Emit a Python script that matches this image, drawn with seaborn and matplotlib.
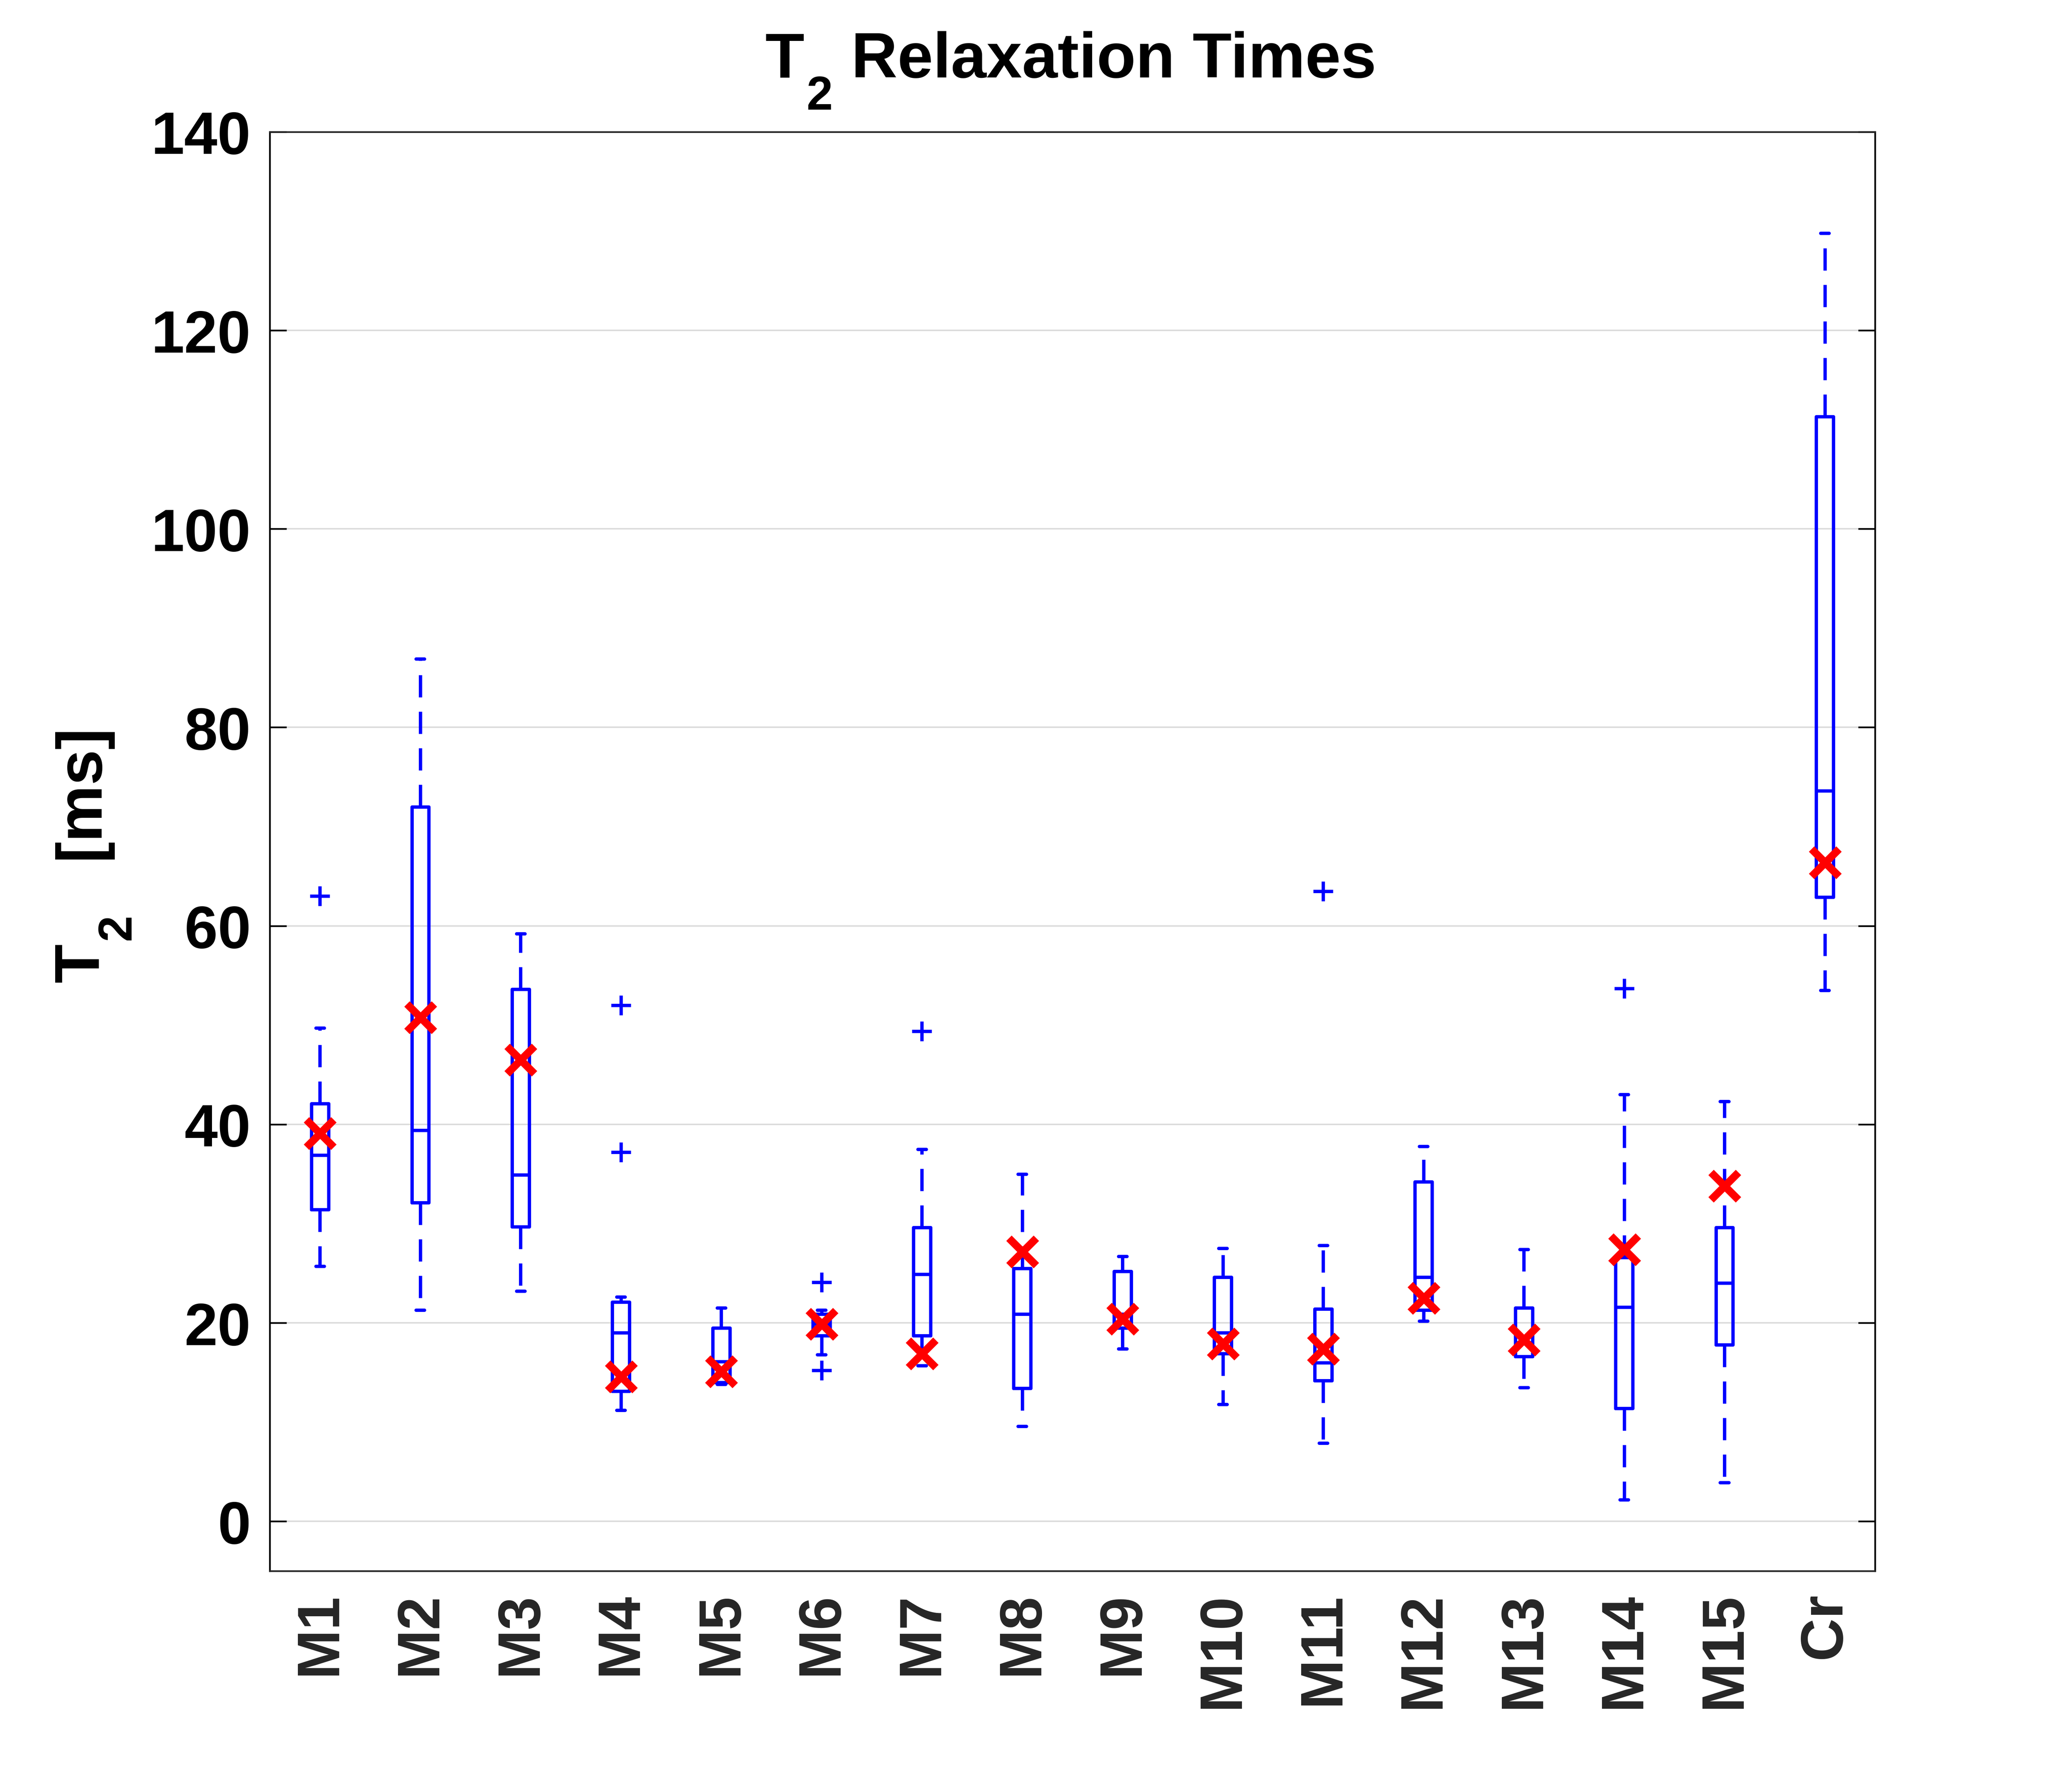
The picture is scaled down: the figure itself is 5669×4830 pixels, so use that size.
import numpy as np
import matplotlib
matplotlib.use("Agg")
import matplotlib.pyplot as plt
import seaborn as sns

# values (ms)
categories = ['M1', 'M2', 'M3', 'M4', 'M5', 'M6', 'M7', 'M8', 'M9', 'M10',
              'M11', 'M12', 'M13', 'M14', 'M15', 'Cr']
whisker_low = [25.7, 21.3, 23.2, 11.2, 13.8, 16.8, 15.7, 9.6, 17.4, 11.8,
               7.9, 20.2, 13.5, 2.2, 3.9, 53.5]
q1 = [31.4, 32.1, 29.7, 13.1, 14.0, 18.7, 18.7, 13.4, 19.5, 16.9,
      14.2, 21.3, 16.6, 11.4, 17.8, 62.9]
medians = [36.9, 39.4, 34.9, 19.0, 16.1, 19.9, 24.9, 20.9, 20.9, 19.0,
           16.0, 24.6, 18.0, 21.6, 24.0, 73.6]
q3 = [42.1, 72.0, 53.6, 22.1, 19.5, 20.9, 29.6, 25.5, 25.2, 24.6,
      21.4, 34.2, 21.5, 26.6, 29.6, 111.3]
whisker_high = [49.7, 86.9, 59.2, 22.6, 21.5, 21.3, 37.5, 35.0, 26.7, 27.5,
                27.8, 37.8, 27.4, 43.0, 42.3, 129.8]
means = [39.1, 50.8, 46.5, 14.6, 15.1, 19.9, 16.9, 27.2, 20.4, 17.9,
         17.4, 22.5, 18.3, 27.4, 33.8, 66.4]
outliers = [[63.0], [], [], [52.0, 37.2], [], [24.1, 15.2], [49.4], [], [], [],
            [63.5], [], [], [53.7], [], []]
yticks = [0, 20, 40, 60, 80, 100, 120, 140]

sns.set_theme(style="white")
plt.rcParams['font.family'] = ['Liberation Sans', 'DejaVu Sans']
plt.rcParams['font.weight'] = 'bold'
plt.rcParams['lines.scale_dashes'] = False

W, H = 5669, 4831
fig = plt.figure(figsize=(W / 600, H / 600), dpi=600)
ax = fig.add_axes([0.1302, 0.1099, 0.9049 - 0.1302, 0.9251 - 0.1099])

stats = []
for i in range(len(categories)):
    stats.append(dict(whislo=whisker_low[i], q1=q1[i], med=medians[i],
                      q3=q3[i], whishi=whisker_high[i],
                      fliers=outliers[i], label=categories[i]))

lw = 1.1
ax.bxp(stats, positions=np.arange(len(categories)), widths=0.17,
       manage_ticks=False,
       boxprops=dict(color='blue', lw=lw),
       whiskerprops=dict(color='blue', lw=lw, linestyle=(0, (7.3, 4.7))),
       capprops=dict(color='blue', lw=lw),
       medianprops=dict(color='blue', lw=lw),
       flierprops=dict(marker='+', markeredgecolor='blue', markersize=6.5,
                       markeredgewidth=1.1, linestyle='none'))

# mean markers
sns.pointplot(x=categories, y=means, ax=ax, color='red', markers='x',
              linestyle='none', errorbar=None, markersize=9,
              markeredgewidth=2.5, zorder=5)

ax.set_xlim(-0.5, len(categories) - 0.5)
ax.set_ylim(-5, 140)
ax.set_yticks(yticks)
ax.set_xlabel('')
ax.set_ylabel('')

ax.set_axisbelow(True)
ax.yaxis.grid(True, color='#dbdbdb', lw=0.5)
ax.xaxis.grid(False)

for side in ['left', 'right']:
    ax.spines[side].set_color('black')
    ax.spines[side].set_linewidth(0.55)
for side in ['top', 'bottom']:
    ax.spines[side].set_color('#262626')
    ax.spines[side].set_linewidth(0.55)

ax.tick_params(axis='y', direction='in', length=5.5, width=0.55,
               left=True, right=True, labelsize=19.6, pad=6.2,
               colors='black')
ax.tick_params(axis='x', length=0, pad=7, labelsize=19.6,
               labelrotation=90, labelcolor='#262626')
for lab in ax.get_xticklabels() + ax.get_yticklabels():
    lab.set_fontweight('bold')

# title with a low subscript, MATLAB style
txt = dict(fontweight='bold', color='black', ha='left', va='baseline')
fig.text(2094 / W, 1 - 212 / H, 'T', fontsize=21, **txt)
fig.text(2206 / W, 1 - 300 / H, '2', fontsize=15.5, **txt)
fig.text(2329 / W, 1 - 212 / H, 'Relaxation Times', fontsize=21, **txt)

# y label
rot = dict(rotation=90, rotation_mode='anchor', **txt)
fig.text(269 / W, 1 - 2688 / H, 'T', fontsize=21, **rot)
fig.text(356 / W, 1 - 2573 / H, '2', fontsize=15.5, **rot)
fig.text(269 / W, 1 - 2352 / H, '[ms]', fontsize=21, **rot)

fig.savefig('out.png', dpi=600, facecolor='white')
